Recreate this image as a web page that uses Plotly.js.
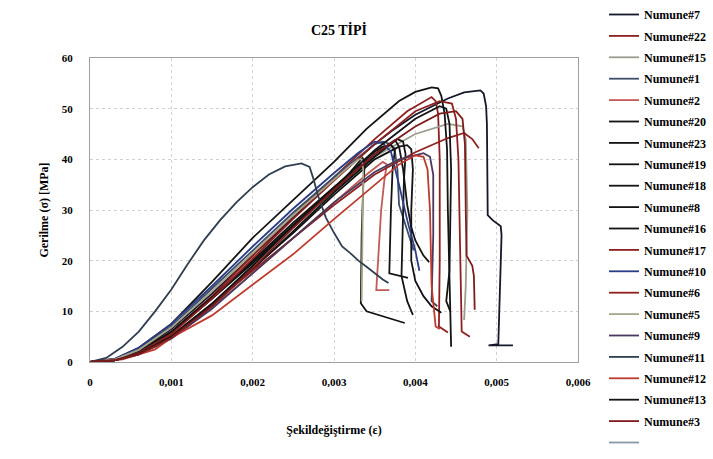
<!DOCTYPE html>
<html><head><meta charset="utf-8">
<script src="https://cdn.plot.ly/plotly-3.0.1.min.js"></script>
<style>html,body{margin:0;padding:0;background:#fff}#chart{width:713px;height:459px}</style>
</head><body><div id="chart"></div>
<script>
// Strain (ε) and stress (MPa), one pair of arrays per specimen
var n7_x  = [0,0.0003,0.0006,0.001,0.0015,0.002,0.0025,0.003,0.0035,0.0037,0.004,0.0044,0.0046,0.0048,0.00484,0.00487,0.00488,0.00489,0.00495,0.00505,0.00506,0.00504,0.00502,0.0049,0.0052];
var n7_y  = [0,0.5,2.2,6.5,13.5,21,28.5,36,43,45.5,48.8,52,53.2,53.6,53,50.5,47,29,28,26.8,25,12,3.5,3.3,3.3];
var n22_x = [0,0.0003,0.0006,0.001,0.0015,0.002,0.0025,0.003,0.0035,0.0039,0.0042,0.00425,0.00428,0.0043,0.0043,0.00429,0.0044];
var n22_y = [0,0.4,2,6,13,21,29,36.5,44,49.5,52.3,51.5,49,40,20,7,5.8];
var n15_x = [0,0.0003,0.0006,0.001,0.0015,0.002,0.0025,0.003,0.0035,0.004,0.0044,0.00458,0.00462,0.00464,0.00462,0.0046];
var n15_y = [0,0.4,2,5.8,12.5,20,27.5,34.5,40.5,45,47,46.5,44,30,15,8.3];
var n1_x  = [0,0.0003,0.0006,0.001,0.0015,0.002,0.0025,0.003,0.0033,0.0035,0.0036,0.0037,0.00375,0.00378,0.0038,0.0039,0.00398];
var n1_y  = [0,0.5,2.5,7,14.5,22,29.5,36.5,40.5,43,43.5,43,41.5,38,31,26,22];
var n2_x  = [0,0.0003,0.0006,0.001,0.0015,0.002,0.0025,0.003,0.0034,0.0036,0.00365,0.00362,0.00358,0.00352,0.00368];
var n2_y  = [0,0.3,1.5,4.8,10.8,17.5,24.5,31.5,37,39.5,39,36,30,14.2,14.2];
var n20_x = [0,0.0003,0.0006,0.001,0.0015,0.002,0.0025,0.003,0.0034,0.0038,0.004,0.0042,0.00428,0.00432,0.00436,0.00439,0.0044,0.00442,0.00444];
var n20_y = [0,0.6,2.8,7.5,15.8,24.5,32,39.5,46,51.5,53.3,54.2,54,52.5,49,42,30,15,3];
var n23_x = [0,0.0003,0.0006,0.001,0.0015,0.002,0.0025,0.003,0.0035,0.00375,0.0038,0.00385,0.0039,0.00395,0.004,0.0041,0.00417];
var n23_y = [0,0.4,2,5.8,12.5,19.8,27,34,41,43.8,42.5,38,31,26.6,24,21,19.7];
var n19_x = [0,0.0003,0.0006,0.001,0.0015,0.002,0.0025,0.003,0.0035,0.0038,0.0039,0.00395,0.00397,0.00395,0.00395,0.004,0.0041,0.0042,0.00432];
var n19_y = [0,0.3,1.7,5.2,11.5,18.5,25.5,33,40,42.5,42.8,42,38,30,20,16,13,11,9.7];
var n18_x = [0,0.0003,0.0006,0.001,0.0015,0.002,0.0025,0.003,0.0032,0.0033,0.00335,0.00338,0.00336,0.00334,0.00333,0.0034,0.0036,0.00387];
var n18_y = [0,0.4,2,5.8,12.5,19.5,26.8,34,37.5,39.5,40.3,39.5,35,25,11.6,10,9,7.7];
var n8_x  = [0,0.0003,0.0006,0.001,0.0015,0.002,0.0025,0.003,0.0033,0.0035,0.0036,0.0037,0.00375,0.00372,0.0037,0.00368,0.00391];
var n8_y  = [0,0.4,2,6,12.8,20,27.5,34.5,38.8,41.5,42.5,42.8,42,38,30,17.5,16.6];
var n16_x = [0,0.0003,0.0006,0.001,0.0015,0.002,0.0025,0.003,0.0035,0.0037,0.00378,0.00385,0.00388,0.00386,0.00384,0.00383,0.0039,0.00397];
var n16_y = [0,0.3,1.6,5,11.2,18.3,25.8,33.5,40.5,43,44,43.5,41,36,25,17,12,9.3];
var n17_x = [0,0.0003,0.0006,0.001,0.0015,0.002,0.0025,0.003,0.0035,0.004,0.0043,0.00445,0.0045,0.00453,0.00455,0.00457,0.00467];
var n17_y = [0,0.3,1.8,5.5,12.5,20.5,28.3,35.8,43,49.5,51.5,51,48,40,20,6,5];
var n10_x = [0,0.0003,0.0006,0.001,0.0015,0.002,0.0025,0.003,0.0033,0.0035,0.0036,0.0037,0.0038,0.0039,0.004,0.00405];
var n10_y = [0,0.6,2.8,7.5,15,22.8,30.3,37.3,41.3,43.5,43.2,41.5,35,28,22,18];
var n6_x  = [0,0.0004,0.0008,0.0012,0.0016,0.002,0.0025,0.003,0.0035,0.004,0.0044,0.0046,0.0047,0.00478];
var n6_y  = [0,0.6,3,7.5,12.8,18,24.5,31,37,41.4,44.2,45.2,44,42.2];
var n5_x  = [0,0.0003,0.0006,0.001,0.0015,0.002,0.0025,0.003,0.0032,0.0033,0.00334,0.00336,0.00335,0.00334];
var n5_y  = [0,0.5,2.4,6.8,14,21.5,29,36,38.8,40,40,38,25,12];
var n9_x  = [0,0.0003,0.0006,0.001,0.0015,0.002,0.0025,0.003,0.0035,0.0038,0.0041,0.00418,0.00422,0.00422,0.0042,0.00427];
var n9_y  = [0,0.3,1.5,4.6,10.5,17.5,24.5,31.5,37.5,40,41.2,40.5,37,25,12,11];
var n11_x = [0,0.0002,0.0004,0.0006,0.0008,0.001,0.0012,0.0014,0.0016,0.0018,0.002,0.0022,0.0024,0.0026,0.0027,0.00275,0.0028,0.0029,0.003,0.0031,0.0032,0.0033,0.0034,0.0035,0.0036,0.00367];
var n11_y = [0,0.8,3,6,10,14.3,19.3,24,28,31.5,34.5,37,38.6,39.2,38.5,36,33,28.5,25.5,22.8,21.5,20,18.8,17.5,16.3,15.6];
var n12_x = [0,0.0004,0.0008,0.001,0.0015,0.002,0.0025,0.003,0.0035,0.0038,0.004,0.0041,0.00415,0.00418,0.0042,0.00425,0.0043];
var n12_y = [0,0.5,2.5,4.8,9.2,15.2,21.3,28.2,35,39,40.8,40.5,38,30,15,7,6.5];
var n13_x = [0,0.0003,0.0006,0.001,0.0015,0.002,0.0025,0.003,0.0035,0.004,0.0043,0.00438,0.00442,0.00444,0.00442,0.00438,0.00443];
var n13_y = [0,0.3,1.6,5,11.5,19,27,34.5,41.8,48,50.5,50,47,38,18,12,10];
var n3_x  = [0,0.0003,0.0006,0.001,0.0015,0.002,0.0025,0.003,0.0035,0.004,0.0043,0.0045,0.00458,0.00461,0.00462,0.00463,0.0047,0.00472,0.00473];
var n3_y  = [0,0.3,1.5,4.8,11,18.5,26.5,34,41,46.5,49,49.5,48,43,30,21,19,17,10.3];

var seriesNames  = ["Numune#7","Numune#22","Numune#15","Numune#1","Numune#2","Numune#20","Numune#23","Numune#19","Numune#18","Numune#8","Numune#16","Numune#17","Numune#10","Numune#6","Numune#5","Numune#9","Numune#11","Numune#12","Numune#13","Numune#3"," "];
var seriesX = [n7_x,n22_x,n15_x,n1_x,n2_x,n20_x,n23_x,n19_x,n18_x,n8_x,n16_x,n17_x,n10_x,n6_x,n5_x,n9_x,n11_x,n12_x,n13_x,n3_x,[null]];
var seriesY = [n7_y,n22_y,n15_y,n1_y,n2_y,n20_y,n23_y,n19_y,n18_y,n8_y,n16_y,n17_y,n10_y,n6_y,n5_y,n9_y,n11_y,n12_y,n13_y,n3_y,[null]];
var seriesColors = ["#15172a","#8e2020","#9c9c8e","#3d4e6a","#c25a55","#141414","#141414","#141414","#141414","#141414","#141414","#8e2020","#2c3d86","#8e2020","#a6a68a","#4a3a5e","#2f3e50","#bd3a2e","#141414","#7e1c1c","#8a98a8"];

var xTicks = [0,0.001,0.002,0.003,0.004,0.005,0.006];
var xTickText = ["0","0,001","0,002","0,003","0,004","0,005","0,006"];
var yTicks = [0,10,20,30,40,50,60];

var serif = "Liberation Serif, Times New Roman, serif";
var traces = seriesNames.map(function(n,i){
  return {x: seriesX[i], y: seriesY[i], name: n, type: 'scatter', mode: 'lines',
    legendgroup: 'g'+i, showlegend: true,
    line: {color: seriesColors[i], width: 1.8}, hoverinfo: 'skip'};
});

var layout = {
  width: 713, height: 459,
  margin: {l: 90, r: 135, t: 58, b: 97},
  paper_bgcolor: '#ffffff', plot_bgcolor: '#ffffff',
  font: {family: serif, color: '#000'},
  title: {text: '<b>C25 TİPİ</b>', x: 339/713, xanchor: 'center', y: 1-30/459, yanchor: 'middle', font: {size: 14, family: serif}},
  xaxis: {range: [0,0.006], tickvals: xTicks, ticktext: xTickText, showgrid: true,
    gridcolor: '#d2d2d2', griddash: '3px,3px', gridwidth: 1, zeroline: false,
    showline: true, linecolor: '#a0a0a0', mirror: true, ticks: '', ticklabelstandoff: 10,
    tickfont: {size: 11, family: serif, weight: 'bold'},
    title: {text: '<b>Şekildeğiştirme (ε)</b>', font: {size: 12, family: serif}, standoff: 38}},
  yaxis: {range: [0,60], tickvals: yTicks, showgrid: true,
    gridcolor: '#d2d2d2', griddash: '3px,3px', gridwidth: 1, zeroline: false,
    showline: true, linecolor: '#a0a0a0', mirror: true, ticks: '', ticklabelstandoff: 14,
    tickfont: {size: 11, family: serif, weight: 'bold'},
    title: {text: '<b>Gerilme (σ) [MPa]</b>', font: {size: 12, family: serif}, standoff: 10}},
  showlegend: true,
  legend: {x: 604/713, xanchor: 'left', xref: 'container', y: 1, yref: 'container', yanchor: 'top',
    maxheight: 459,
    traceorder: 'grouped', tracegroupgap: 2.4, font: {size: 12, family: serif, weight: 'bold'},
    bgcolor: 'rgba(0,0,0,0)', borderwidth: 0, itemwidth: 30}
};
Plotly.newPlot('chart', traces, layout, {staticPlot: true});
</script></body></html>
